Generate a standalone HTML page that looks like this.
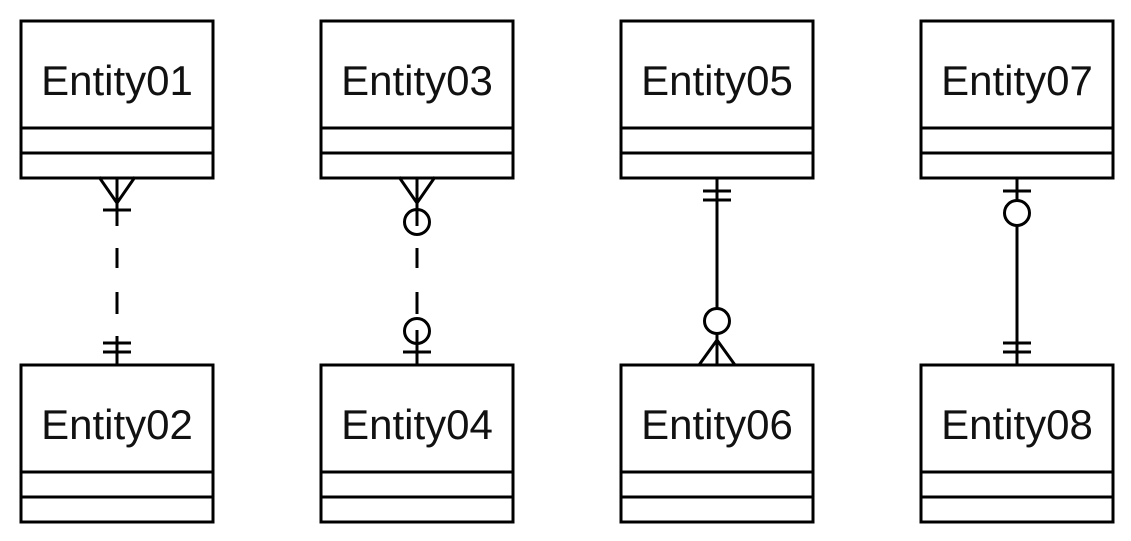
<!DOCTYPE html>
<html><head><meta charset="utf-8"><style>html,body{margin:0;padding:0;background:#fff}</style></head>
<body>
<svg width="1131" height="541" viewBox="0 0 1131 541" xmlns="http://www.w3.org/2000/svg" style="display:block">
<g fill="none" stroke="#000" stroke-width="3">
<!-- boxes -->
<g id="b">
<rect x="21" y="21" width="192" height="157"/>
<line x1="22" y1="128" x2="212" y2="128"/>
<line x1="22" y1="153" x2="212" y2="153"/>
</g>
<use href="#b" x="300"/><use href="#b" x="600"/><use href="#b" x="900"/>
<use href="#b" y="344"/><use href="#b" x="300" y="344"/><use href="#b" x="600" y="344"/><use href="#b" x="900" y="344"/>
<!-- 1 -->
<path d="M99 177 L117 203 L135 177 M117 178 V226 M103 210 H131 M117 248 V268 M117 292 V314 M117 336 V365 M103 343 H131 M103 352 H131"/>
<!-- 2 -->
<path d="M399 177 L417 203 L435 177 M417 178 V226 M417 248 V268 M417 292 V314 M417 330 V365 M403 352 H431"/>
<circle cx="417" cy="222" r="12.5"/>
<circle cx="417" cy="331" r="12.5"/>
<!-- 3 -->
<path d="M717 178 V365 M703 191 H731 M703 200 H731 M717 340 L699 365 M717 340 L735 365"/>
<circle cx="717" cy="321" r="12.5" fill="#fff"/>
<!-- 4 -->
<path d="M1017 178 V365 M1003 191 H1031 M1003 343 H1031 M1003 352 H1031"/>
<circle cx="1017" cy="213" r="12.5" fill="#fff"/>
</g>
<g font-family="'Liberation Sans', sans-serif" font-size="42" text-anchor="middle" fill="#111">
<text x="117" y="95">Entity01</text>
<text x="417" y="95">Entity03</text>
<text x="717" y="95">Entity05</text>
<text x="1017" y="95">Entity07</text>
<text x="117" y="439">Entity02</text>
<text x="417" y="439">Entity04</text>
<text x="717" y="439">Entity06</text>
<text x="1017" y="439">Entity08</text>
</g>
</svg>
</body></html>
